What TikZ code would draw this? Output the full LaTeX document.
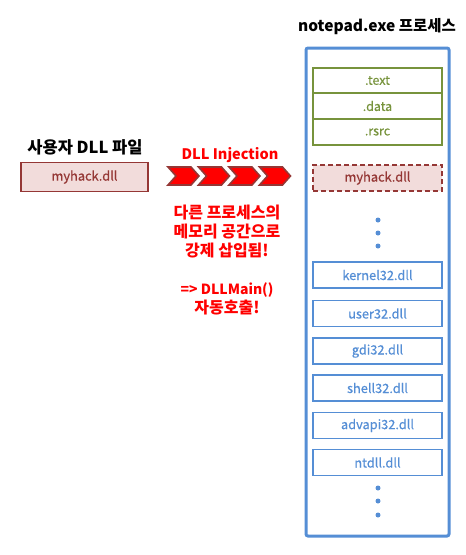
\documentclass[tikz,border=0pt]{standalone}
\usepackage{fontspec}
\setmainfont{Noto Sans CJK KR}[UprightFeatures={FakeBold=0.5}]
\usetikzlibrary{calc}
\definecolor{sgreen}{HTML}{77933C}
\definecolor{sblue}{HTML}{558ED5}
\definecolor{dred}{HTML}{953735}
\definecolor{pinkf}{HTML}{F2DCDB}
\newcommand{\fsz}[1]{\fontsize{#1}{#1}\selectfont}
\tikzset{
  secbox/.style={draw=sgreen,line width=1.8pt,minimum width=129pt,minimum height=25.5pt,inner sep=0pt,text=sgreen,font=\fsz{12.5}},
  dllbox/.style={draw=sblue,line width=1.8pt,minimum width=129pt,minimum height=26pt,inner sep=0pt,text=sblue,font=\fsz{12.8}},
  hackbox/.style={draw=dred,fill=pinkf,line width=1.8pt,minimum width=129pt,minimum height=26pt,inner sep=0pt,text=dred,font=\fsz{12.8}},
  titletext/.style={font=\bfseries\fsz{15.5},text=black},
  redtext/.style={font=\bfseries\fontsize{16}{19}\selectfont,text=red,align=center},
  bdot/.style={circle,fill=sblue,inner sep=0pt,minimum size=5pt},
  chev/.style={fill=red,draw=dred,line width=1.6pt,line join=miter}
}
\begin{document}
\begin{tikzpicture}[x=1pt,y=-1pt]
\useasboundingbox (0,0) rectangle (466,555);
% outer process box
\draw[sblue,line width=3pt,rounded corners=2pt] (306,48) rectangle (449,536);
\node[titletext] (ptitle) at (377,27) {notepad.exe 프로세스};
% sections
\node[secbox] (text) at (377.5,80.5) {.text};
\node[secbox] (data) at (377.5,106) {.data};
\node[secbox] (rsrc) at (377.5,132) {.rsrc};
\node[hackbox,dashed,dash pattern=on 5pt off 3pt] (hack2) at (377.5,178) {myhack.dll};
% dots
\node[bdot] (d1) at (378,220) {};
\node[bdot] (d2) at (378,233) {};
\node[bdot] (d3) at (378,246) {};
% dll boxes
\node[dllbox] (k32) at (377.5,275) {kernel32.dll};
\node[dllbox] (u32) at (377.5,313.5) {user32.dll};
\node[dllbox] (g32) at (377.5,351) {gdi32.dll};
\node[dllbox] (s32) at (377.5,388) {shell32.dll};
\node[dllbox] (a32) at (377.5,425.5) {advapi32.dll};
\node[dllbox] (nt) at (377.5,462.5) {ntdll.dll};
\node[bdot] (e1) at (378,488) {};
\node[bdot] (e2) at (378,501) {};
\node[bdot] (e3) at (378,515) {};
% user dll
\node[font=\bfseries\fsz{16.5},text=black] (utitle) at (85,147) {사용자 DLL 파일};
\node[hackbox,minimum width=127pt,minimum height=29pt] (hack1) at (84.5,177) {myhack.dll};
% chevrons
\foreach \i in {0,1,2,3}{
  \pgfmathsetmacro{\xo}{168+30.5*\i}
  \draw[chev] (\xo,167) -- ++(23,0) -- ++(8,9) -- ++(-8,9) -- ++(-23,0) -- ++(8,-9) -- cycle;
}
\node[font=\bfseries\fsz{14.5},text=red] (inj) at (230,155) {DLL Injection};
\node[redtext] (desc) at (227,232) {다른 프로세스의\\메모리 공간으로\\강제 삽입됨!};
\node[redtext] (dmain) at (227,299) {{\fsz{14}=> DLLMain()}\\자동호출!};
\end{tikzpicture}
\end{document}
